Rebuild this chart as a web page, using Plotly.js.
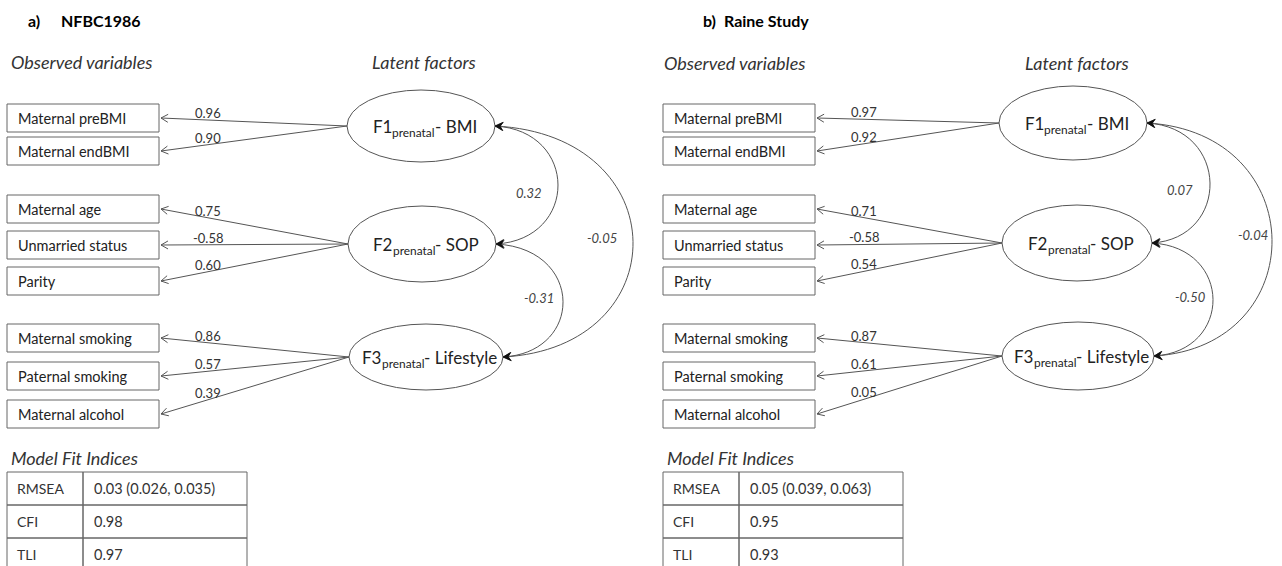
<!DOCTYPE html>
<html><head><meta charset="utf-8">
<script src="https://cdn.plot.ly/plotly-3.0.1.min.js"></script>
<style>html,body{margin:0;padding:0;background:#fff}#chart{width:1282px;height:566px}</style>
</head><body><div id="chart"></div>
<script>
// ---------------- data ----------------
const observedVars = ['Maternal preBMI','Maternal endBMI','Maternal age','Unmarried status','Parity','Maternal smoking','Paternal smoking','Maternal alcohol'];
const factorOfVar = [0,0,1,1,1,2,2,2];
const factorCodes = ['F1','F2','F3'];
const factorSub = 'prenatal';
const factorNames = ['- BMI','- SOP','- Lifestyle'];
const panelLetters = ['a)','b)'];
const panelNames = ['NFBC1986','Raine Study'];
const loadingsNFBC = [0.96,0.90,0.75,-0.58,0.60,0.86,0.57,0.39];
const loadingsRaine = [0.97,0.92,0.71,-0.58,0.54,0.87,0.61,0.05];
const corrPairs = [[0,1],[1,2],[0,2]];
const corrNFBC = [0.32,-0.31,-0.05];
const corrRaine = [0.07,-0.50,-0.04];
const fitIndexNames = ['RMSEA','CFI','TLI'];
const fitNFBC = ['0.03 (0.026, 0.035)','0.98','0.97'];
const fitRaine = ['0.05 (0.039, 0.063)','0.95','0.93'];

// ---------------- layout geometry ----------------
const W = 1282, H = 566;
const FONT = 'Lato, "Open Sans", sans-serif';
const LINE = '#555';
const panels = [
  {letterX:26, nameX:59, titleY:20, obsX:9, latX:424, headY:62,
   boxLeft:7, loadLabelX:208, tableLeft:7,
   ell:[{cx:421,cy:126,rx:74,ry:36},{cx:422,cy:244,rx:74,ry:38},{cx:426,cy:357,rx:77,ry:33}],
   arcMaxX:[558,563,633], corrLabel:[[529,193],[539,298],[602,238]],
   loadings:loadingsNFBC, corr:corrNFBC, fit:fitNFBC},
  {letterX:701, nameX:722, titleY:20, obsX:662, latX:1077, headY:63,
   boxLeft:663, loadLabelX:864, tableLeft:663,
   ell:[{cx:1073,cy:123,rx:74,ry:37},{cx:1077,cy:243,rx:75,ry:38},{cx:1078,cy:356,rx:76,ry:34}],
   arcMaxX:[1210,1213,1272], corrLabel:[[1180,190],[1190,297],[1253,235]],
   loadings:loadingsRaine, corr:corrRaine, fit:fitRaine}
];
const rowTop = [104,137,195,231,267,324,362,400];
const boxW = 152, boxH = 28;
const tableTitleY = 458, tableTop = 472, tableRowH = 33, tableCol = 76, tableW = 240;
const MAIN_SIZE = 17, SUB_SIZE = 11.9;

const measureCtx = document.createElement('canvas').getContext('2d');
function textWidth(s, size) {
  measureCtx.font = size + 'px Lato, "Open Sans", sans-serif';
  return measureCtx.measureText(s).width;
}

const shapes = [], annotations = [];
function txt(x, y, text, opt) {
  opt = opt || {};
  const a = {x, y, xref:'x', yref:'y', text, showarrow:false,
    xanchor:opt.xanchor || 'left', yanchor:'middle',
    font:{family:FONT, size:opt.size || 14, color:opt.color || '#222',
          style:opt.style || 'normal', weight:opt.weight || 'normal'}};
  if (opt.tight) { a.borderpad = 0; a.borderwidth = 0; }
  annotations.push(a);
}
function headGeom(tx, ty, fx, fy, L) {
  const dx = tx - fx, dy = ty - fy, d = Math.hypot(dx, dy);
  const ux = dx / d, uy = dy / d, nx = -uy, ny = ux;
  return {ux, uy, nx, ny, bx: tx - ux * L, by: ty - uy * L};
}
function filledHead(tx, ty, fx, fy) {
  const L = 8, h = 4.2, g = headGeom(tx, ty, fx, fy, L);
  const mx = tx - g.ux * L * 0.65, my = ty - g.uy * L * 0.65;
  return `M${tx},${ty}L${g.bx + g.nx*h},${g.by + g.ny*h}L${mx},${my}L${g.bx - g.nx*h},${g.by - g.ny*h}Z`;
}
function openHead(tx, ty, fx, fy) {
  const L = 7, h = 4, g = headGeom(tx, ty, fx, fy, L);
  return `M${g.bx + g.nx*h},${g.by + g.ny*h}L${tx},${ty}L${g.bx - g.nx*h},${g.by - g.ny*h}`;
}

panels.forEach((p, pi) => {
  // titles
  txt(p.letterX, p.titleY, panelLetters[pi], {size:16, color:'#000', weight:'bold'});
  txt(p.nameX, p.titleY, panelNames[pi], {size:16, color:'#000', weight:'bold'});
  txt(p.obsX, p.headY, 'Observed variables', {size:18, color:'#333', style:'italic'});
  txt(p.latX, p.headY, 'Latent factors', {size:18, color:'#333', style:'italic', xanchor:'center'});

  // ellipses (latent factors) with "F1 prenatal - BMI" label built from three pieces
  p.ell.forEach((e, k) => {
    shapes.push({type:'circle', xref:'x', yref:'y', x0:e.cx - e.rx, x1:e.cx + e.rx, y0:e.cy - e.ry, y1:e.cy + e.ry,
      line:{color:LINE, width:1}, fillcolor:'rgba(0,0,0,0)'});
    const w1 = textWidth(factorCodes[k], MAIN_SIZE), w2 = textWidth(factorSub, SUB_SIZE), w3 = textWidth(factorNames[k], MAIN_SIZE);
    let x = e.cx + 4 - (w1 + w2 + w3) / 2;
    txt(x, e.cy, factorCodes[k], {size:MAIN_SIZE, color:'#222', tight:true});
    x += w1;
    txt(x, e.cy + 6, factorSub, {size:SUB_SIZE, color:'#222', tight:true});
    x += w2;
    txt(x, e.cy, factorNames[k], {size:MAIN_SIZE, color:'#222', tight:true});
  });

  // observed boxes + loadings
  observedVars.forEach((name, i) => {
    const top = rowTop[i], cy = top + boxH / 2;
    shapes.push({type:'rect', xref:'x', yref:'y', x0:p.boxLeft, x1:p.boxLeft + boxW, y0:top, y1:top + boxH,
      line:{color:'#666', width:1}});
    txt(p.boxLeft + 9, cy, name, {size:14.5, color:'#222'});
    const e = p.ell[factorOfVar[i]];
    const tailX = e.cx - e.rx, tailY = e.cy, tipX = p.boxLeft + boxW + 2, tipY = cy;
    shapes.push({type:'path', xref:'x', yref:'y', path:`M${tailX},${tailY}L${tipX},${tipY}`, line:{color:LINE, width:1}});
    shapes.push({type:'path', xref:'x', yref:'y', path:openHead(tipX, tipY, tailX, tailY), line:{color:LINE, width:1}});
    const t = (tailX - p.loadLabelX) / (tailX - tipX);
    const lineY = tailY + (tipY - tailY) * t;
    txt(p.loadLabelX, lineY - 7, p.loadings[i].toFixed(2), {size:13, color:'#333', xanchor:'center'});
  });

  // correlation arcs (double-headed)
  corrPairs.forEach(([a, b], k) => {
    const ea = p.ell[a], eb = p.ell[b];
    const x1 = ea.cx + ea.rx, y1 = ea.cy, x2 = eb.cx + eb.rx, y2 = eb.cy;
    const c = (p.arcMaxX[k] - 0.125 * (x1 + x2)) / 0.75;
    const d = (y2 - y1) * 0.04;
    shapes.push({type:'path', xref:'x', yref:'y',
      path:`M${x1},${y1}C${c},${y1 + d} ${c},${y2 - d} ${x2},${y2}`,
      line:{color:LINE, width:1}});
    shapes.push({type:'path', xref:'x', yref:'y', path:filledHead(x1, y1, c, y1 + d), fillcolor:'#111', line:{color:'#111', width:0.5}});
    shapes.push({type:'path', xref:'x', yref:'y', path:filledHead(x2, y2, c, y2 - d), fillcolor:'#111', line:{color:'#111', width:0.5}});
    txt(p.corrLabel[k][0], p.corrLabel[k][1], p.corr[k].toFixed(2), {size:13, color:'#444', style:'italic', xanchor:'center'});
  });

  // fit table
  txt(p.tableLeft + 2, tableTitleY, 'Model Fit Indices', {size:18, color:'#333', style:'italic'});
  fitIndexNames.forEach((n, r) => {
    const y0 = tableTop + r * tableRowH, y1 = y0 + tableRowH;
    shapes.push({type:'rect', xref:'x', yref:'y', x0:p.tableLeft, x1:p.tableLeft + tableCol, y0, y1, line:{color:'#666', width:1}});
    shapes.push({type:'rect', xref:'x', yref:'y', x0:p.tableLeft + tableCol, x1:p.tableLeft + tableW, y0, y1, line:{color:'#666', width:1}});
    txt(p.tableLeft + 8, (y0 + y1) / 2, n, {size:14, color:'#333'});
    txt(p.tableLeft + tableCol + 9, (y0 + y1) / 2, p.fit[r], {size:14.5, color:'#333'});
  });
});

Plotly.newPlot('chart', [], {
  width:W, height:H, margin:{l:0, r:0, t:0, b:0},
  paper_bgcolor:'#fff', plot_bgcolor:'#fff', showlegend:false,
  xaxis:{range:[0, W], visible:false, fixedrange:true},
  yaxis:{range:[H, 0], visible:false, fixedrange:true},
  shapes, annotations
}, {staticPlot:true, displayModeBar:false});
</script></body></html>
